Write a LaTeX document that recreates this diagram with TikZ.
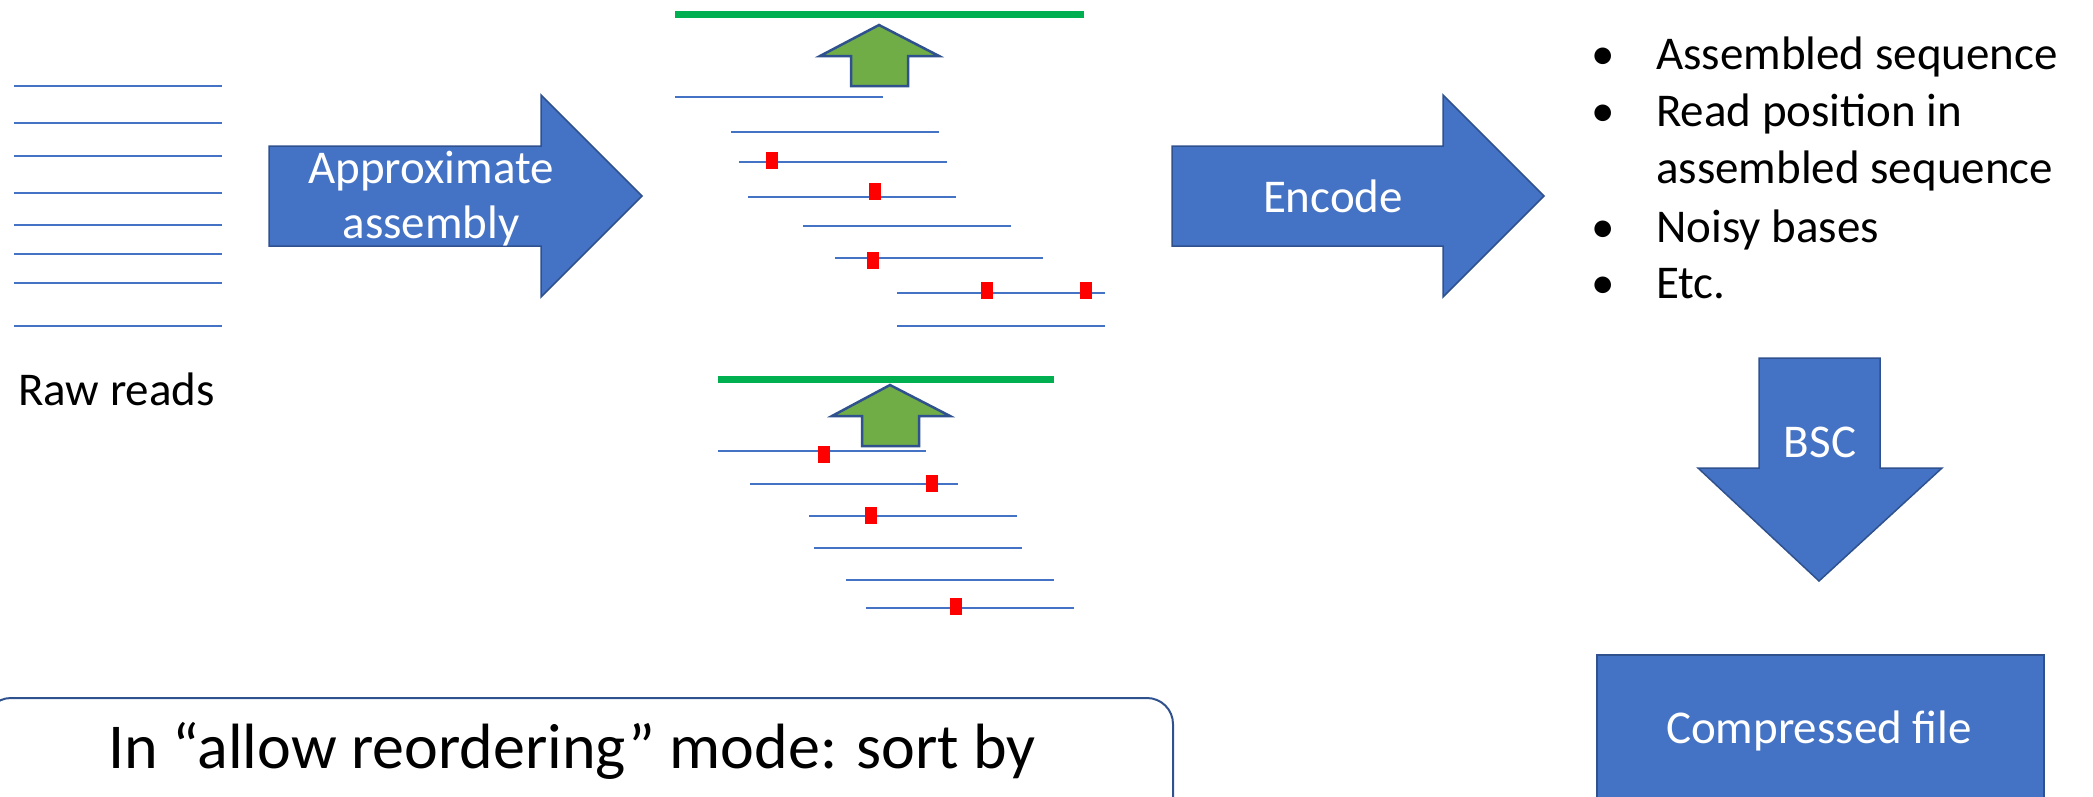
\documentclass[tikz,border=0pt]{standalone}
\usepackage{fontspec}
\setmainfont{Carlito}
\definecolor{ppblue}{HTML}{4472C4}
\definecolor{ppborder}{HTML}{2F528F}
\definecolor{ppgreen}{HTML}{00B050}
\definecolor{ppgreenfill}{HTML}{70AD47}
\definecolor{ppred}{HTML}{FF0000}
\begin{document}
\begin{tikzpicture}[x=1pt,y=-1pt,
  bigarrow/.style={fill=ppblue,draw=ppborder,line width=1.5pt,line join=miter},
  uparrow/.style={fill=ppgreenfill,draw=ppborder,line width=2.5pt,line join=miter},
  readline/.style={draw=ppblue,line width=2pt},
  refline/.style={draw=ppgreen,line width=7pt},
  lbl/.style={inner sep=0pt,anchor=base,font=\fontsize{47}{57}\selectfont},
  wlbl/.style={lbl,text=white},
  biglbl/.style={inner sep=0pt,anchor=base west,font=\fontsize{64}{77}\selectfont}]
\useasboundingbox (0,0) rectangle (2093,796);
% raw reads
\foreach \y in {85.7,123.3,155.5,193,225,254,283.3,325.7}
  \draw[readline] (14,\y) -- ++(208,0);
\node[lbl,anchor=base west] (raw) at (18,405) {Raw reads};
% approximate assembly arrow
\draw[bigarrow] (269,146) -- (541,146) -- (541,95) -- (642,196) -- (541,297) -- (541,246) -- (269,246) -- cycle;
\node[wlbl] (approxA) at (431,183) {Approximate};
\node[wlbl] (approxB) at (431,238) {assembly};
% top assembly
\draw[refline] (675,14) -- (1084,14);
\draw[uparrow] (879,25) -- (939,56) -- (908,56) -- (908,86) -- (851,86) -- (851,56) -- (820,56) -- cycle;
\foreach \x/\y in {675/97,731/132,739/162,748/197,803/226,835/258,897/293,897/326}
  \draw[readline] (\x,\y) -- ++(208,0);
\foreach \x/\y in {772/160,874.5/191.5,872.5/260,987/290.5,1085.5/290.5}
  \fill[ppred] (\x-6,\y-8.5) rectangle (\x+6,\y+8.5);
% bottom assembly
\draw[refline] (718,379) -- (1054,379);
\draw[uparrow] (890,385) -- (950,416) -- (919,416) -- (919,446) -- (862,446) -- (862,416) -- (832,416) -- cycle;
\foreach \x/\y in {718/451,750/484,809/516,814/548,846/580,866/608}
  \draw[readline] (\x,\y) -- ++(208,0);
\foreach \x/\y in {824/454,931.5/483.5,871/515,956/606.5}
  \fill[ppred] (\x-6,\y-8.5) rectangle (\x+6,\y+8.5);
% encode arrow
\draw[bigarrow] (1172,146) -- (1443,146) -- (1443,95) -- (1544,196) -- (1443,297) -- (1443,246) -- (1172,246) -- cycle;
\node[wlbl] (encode) at (1333,212) {Encode};
% bullet list
\node[lbl] (b1) at (1603,69) {•};
\node[lbl] (b2) at (1603,126) {•};
\node[lbl] (b3) at (1603,242) {•};
\node[lbl] (b4) at (1603,298) {•};
\node[lbl,anchor=base west] (t1) at (1656,69) {Assembled sequence};
\node[lbl,anchor=base west] (t2) at (1656,126) {Read position in};
\node[lbl,anchor=base west] (t2b) at (1656,183) {assembled sequence};
\node[lbl,anchor=base west] (t3) at (1656,242) {Noisy bases};
\node[lbl,anchor=base west] (t4) at (1656,298) {Etc.};
% BSC arrow
\draw[bigarrow] (1759,358) -- (1880,358) -- (1880,468) -- (1942,468) -- (1819,581) -- (1698,468) -- (1759,468) -- cycle;
\node[wlbl] (bsc) at (1820,457) {BSC};
% compressed file
\draw[bigarrow] (1597,655) rectangle (2044,820);
\node[wlbl] (cfile) at (1819,743) {Compressed file};
% bottom note box
\draw[draw=ppborder,line width=2pt,rounded corners=26pt] (-15,698) rectangle (1173,840);
\node[biglbl] (note) at (108,768) {In “allow reordering” mode: sort by};
\end{tikzpicture}
\end{document}
